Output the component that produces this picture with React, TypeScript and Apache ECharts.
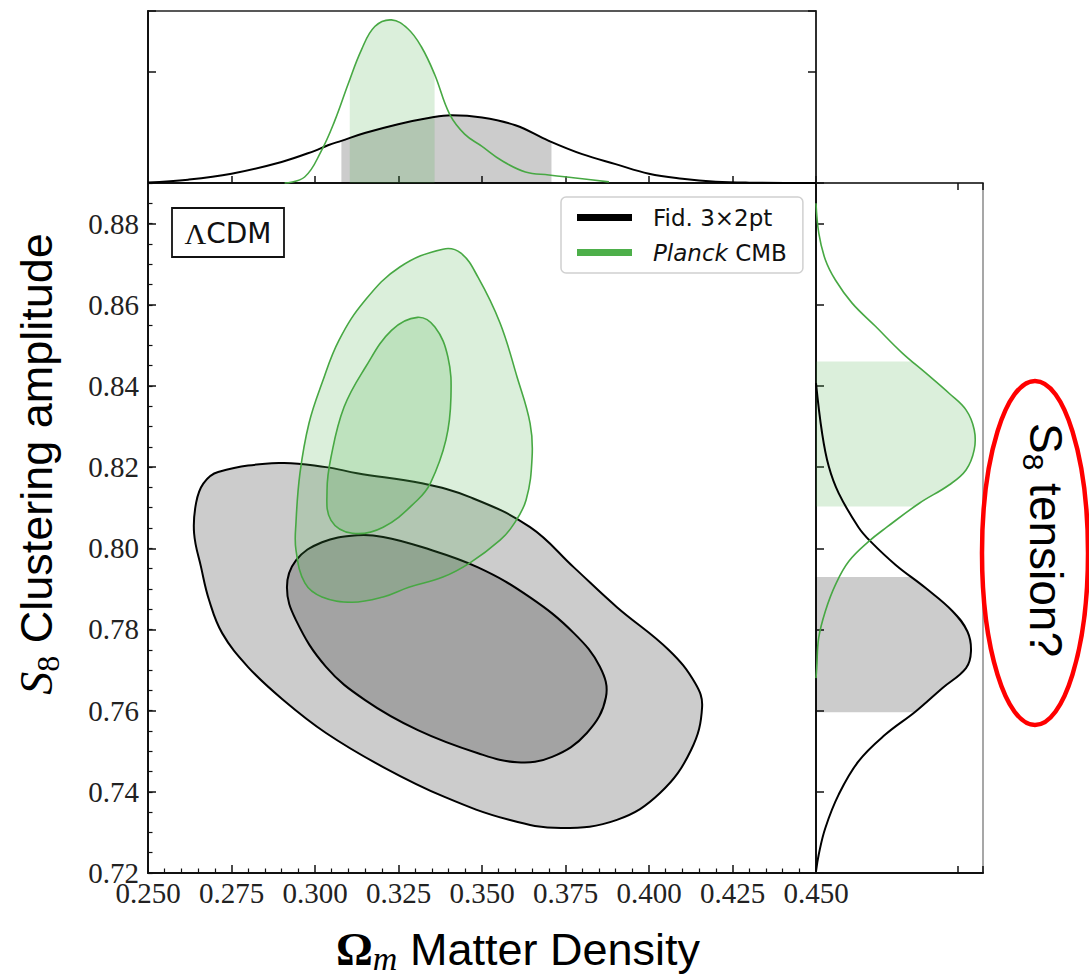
import React, { useEffect, useRef } from "react";
import * as echarts from "echarts";

// ---- axis ranges ----
const OMEGA_MIN = 0.25;
const OMEGA_MAX = 0.45;
const OMEGA_STEP = 0.025;
const S8_MIN = 0.72;
const S8_MAX = 0.89;
const S8_STEP = 0.02;
const TOP_PDF_MAX = 1.55;
const RIGHT_PDF_MAX = 1.18;

// ---- 2D contours [Omega_m, S8] ----
const fidOuter: number[][] = [
  [0.2638, 0.8037], [0.2644, 0.8112], [0.2666, 0.8160], [0.2710, 0.8188], [0.2892, 0.8210],
  [0.3033, 0.8200], [0.3126, 0.8185], [0.3320, 0.8160], [0.3464, 0.8126], [0.3644, 0.8052],
  [0.3775, 0.7953], [0.3904, 0.7855], [0.4060, 0.7749], [0.4138, 0.7668], [0.4159, 0.7609],
  [0.4126, 0.7503], [0.4033, 0.7397], [0.3904, 0.7331], [0.3737, 0.7311], [0.3581, 0.7331],
  [0.3386, 0.7388], [0.3204, 0.7461], [0.3033, 0.7545], [0.2904, 0.7627], [0.2799, 0.7708],
  [0.2722, 0.7791], [0.2683, 0.7872], [0.2659, 0.7953],
];
const fidInner: number[][] = [
  [0.3126, 0.8032], [0.3204, 0.8028], [0.3320, 0.8003], [0.3488, 0.7953], [0.3644, 0.7879],
  [0.3775, 0.7791], [0.3853, 0.7708], [0.3871, 0.7633], [0.3814, 0.7545], [0.3710, 0.7486],
  [0.3605, 0.7473], [0.3488, 0.7495], [0.3308, 0.7552], [0.3150, 0.7626], [0.3033, 0.7708],
  [0.2943, 0.7823], [0.2916, 0.7904], [0.2943, 0.7970], [0.3021, 0.8015],
];
const planckOuter: number[][] = [
  [0.3383, 0.8737], [0.3437, 0.8727], [0.3488, 0.8668], [0.3554, 0.8555], [0.3605, 0.8422],
  [0.3644, 0.8308], [0.3650, 0.8225], [0.3632, 0.8119], [0.3593, 0.8057], [0.3554, 0.8020],
  [0.3464, 0.7964], [0.3383, 0.7929], [0.3281, 0.7904], [0.3204, 0.7880], [0.3111, 0.7867],
  [0.3021, 0.7880], [0.2970, 0.7914], [0.2943, 0.7996], [0.2943, 0.8062], [0.2955, 0.8185],
  [0.2982, 0.8308], [0.3021, 0.8407], [0.3072, 0.8513], [0.3150, 0.8611], [0.3254, 0.8693],
];
const planckInner: number[][] = [
  [0.3307, 0.8569], [0.3359, 0.8545], [0.3398, 0.8471], [0.3407, 0.8372], [0.3392, 0.8267],
  [0.3346, 0.8161], [0.3307, 0.8119], [0.3204, 0.8052], [0.3112, 0.8037], [0.3048, 0.8069],
  [0.3036, 0.8143], [0.3048, 0.8225], [0.3087, 0.8348], [0.3151, 0.8446], [0.3229, 0.8537],
];

// ---- 1D marginals ----
const fidOmega = [0.25, 0.262, 0.275, 0.29, 0.2999, 0.3039, 0.3079, 0.3149, 0.3249, 0.3348, 0.3408, 0.35, 0.36, 0.37, 0.38, 0.39, 0.40, 0.41, 0.42, 0.43, 0.45];
const fidOmegaPdf = [0.005, 0.03, 0.084, 0.19, 0.29, 0.34, 0.38, 0.45, 0.53, 0.59, 0.61, 0.59, 0.52, 0.38, 0.26, 0.17, 0.084, 0.039, 0.012, 0.003, 0];
const planckOmega = [0.2909, 0.2969, 0.3019, 0.3059, 0.3099, 0.3139, 0.3179, 0.3229, 0.3278, 0.3318, 0.3358, 0.3403, 0.3448, 0.35, 0.356, 0.363, 0.37, 0.38, 0.388];
const planckOmegaPdf = [0, 0.054, 0.29, 0.56, 0.89, 1.20, 1.41, 1.47, 1.39, 1.23, 0.98, 0.62, 0.44, 0.33, 0.20, 0.10, 0.072, 0.039, 0.01];
const fidS8 = [0.7204, 0.7245, 0.7311, 0.7393, 0.7475, 0.7541, 0.7598, 0.7656, 0.7705, 0.7746, 0.7795, 0.7845, 0.7902, 0.7959, 0.8017, 0.8052, 0.8136, 0.8202, 0.8284, 0.8407];
const fidS8Pdf = [0, 0.019, 0.066, 0.16, 0.30, 0.49, 0.704, 0.894, 1.06, 1.095, 1.07, 0.965, 0.775, 0.563, 0.385, 0.30, 0.16, 0.09, 0.043, 0];
const planckS8 = [0.768, 0.7705, 0.7779, 0.7845, 0.7910, 0.7968, 0.8017, 0.8052, 0.8111, 0.8156, 0.8193, 0.8243, 0.8292, 0.8341, 0.8382, 0.8432, 0.8481, 0.8547, 0.8604, 0.8661, 0.8711, 0.8776, 0.885];
const planckS8Pdf = [0, 0.005, 0.019, 0.066, 0.137, 0.232, 0.373, 0.50, 0.73, 0.94, 1.06, 1.118, 1.118, 1.06, 0.94, 0.775, 0.61, 0.42, 0.255, 0.137, 0.066, 0.02, 0];

// 68% intervals shaded in the marginals
const fidOmegaBand = [0.3079, 0.3708];
const planckOmegaBand = [0.3104, 0.3358];
const fidS8Band = [0.7596, 0.7929];
const planckS8Band = [0.8103, 0.846];

const SERIES_NAMES = ["Fid. 3×2pt", "Planck CMB"];

const BLACK = "#000000";
const GREEN = "#47a843";
const BLACK_FILL = "rgba(0,0,0,0.2)";
const GREEN_FILL = "rgba(77,175,74,0.2)";
const SMOOTH = 0.4;

function contourSeries(name: string, pts: number[][], fill: string, stroke: string, lw: number) {
  return {
    type: "custom",
    name,
    xAxisIndex: 0,
    yAxisIndex: 0,
    silent: true,
    itemStyle: { color: stroke },
    data: [pts[0]],
    renderItem: (params: any, api: any) => {
      if (params.dataIndex !== 0) return null;
      return {
        type: "polygon",
        shape: { points: pts.map((p) => api.coord(p)), smooth: SMOOTH },
        style: { fill, stroke, lineWidth: lw },
      };
    },
  };
}

function topShade(name: string, xs: number[], ys: number[], band: number[], fill: string) {
  const pts = xs.map((x, i) => [x, ys[i]]);
  return {
    type: "custom", name, xAxisIndex: 1, yAxisIndex: 2, silent: true, data: [pts[0]],
    renderItem: (params: any, api: any) => {
      if (params.dataIndex !== 0) return null;
      const px = pts.map((p) => api.coord(p));
      const a = api.coord([band[0], TOP_PDF_MAX]);
      const b = api.coord([band[1], 0]);
      const f = px[0], l = px[px.length - 1];
      const clip = px.concat([[l[0], l[1] + 40], [f[0], f[1] + 40]]);
      return {
        type: "rect",
        shape: { x: a[0], y: a[1], width: b[0] - a[0], height: b[1] - a[1] },
        style: { fill },
        clipPath: { type: "polygon", shape: { points: clip, smooth: SMOOTH } },
      };
    },
  };
}

function topLine(name: string, xs: number[], ys: number[], color: string, lw: number) {
  const pts = xs.map((x, i) => [x, ys[i]]);
  return {
    type: "custom", name, xAxisIndex: 1, yAxisIndex: 2, silent: true, data: [pts[0]],
    itemStyle: { color },
    renderItem: (params: any, api: any) => {
      if (params.dataIndex !== 0) return null;
      return {
        type: "polyline",
        shape: { points: pts.map((p) => api.coord(p)), smooth: SMOOTH },
        style: { fill: "none", stroke: color, lineWidth: lw },
      };
    },
  };
}

function rightShade(name: string, s8: number[], pdf: number[], band: number[], fill: string) {
  const pts = s8.map((s, i) => [pdf[i], s]);
  return {
    type: "custom", name, xAxisIndex: 2, yAxisIndex: 4, silent: true, data: [pts[0]],
    renderItem: (params: any, api: any) => {
      if (params.dataIndex !== 0) return null;
      const px = pts.map((p) => api.coord(p));
      const a = api.coord([RIGHT_PDF_MAX, band[1]]);
      const b = api.coord([0, band[0]]);
      const f = px[0], l = px[px.length - 1];
      const clip = px.concat([[l[0] - 40, l[1]], [f[0] - 40, f[1]]]);
      return {
        type: "rect",
        shape: { x: b[0], y: a[1], width: a[0] - b[0], height: b[1] - a[1] },
        style: { fill },
        clipPath: { type: "polygon", shape: { points: clip, smooth: SMOOTH } },
      };
    },
  };
}

function rightLine(name: string, s8: number[], pdf: number[], color: string, lw: number) {
  const pts = s8.map((s, i) => [pdf[i], s]);
  return {
    type: "custom", name, xAxisIndex: 2, yAxisIndex: 4, silent: true, data: [pts[0]],
    itemStyle: { color },
    renderItem: (params: any, api: any) => {
      if (params.dataIndex !== 0) return null;
      return {
        type: "polyline",
        shape: { points: pts.map((p) => api.coord(p)), smooth: SMOOTH },
        style: { fill: "none", stroke: color, lineWidth: lw },
      };
    },
  };
}

const axisLine = (color = "#111", width = 2) => ({ show: true, onZero: false, lineStyle: { color, width } });
const tick = (length: number) => ({ show: true, inside: true, length, lineStyle: { color: "#111", width: 1.5 } });
const noLabel = { show: false };
const noSplit = { show: false };

export default function App() {
  const ref = useRef<HTMLDivElement>(null);
  useEffect(() => {
    if (!ref.current) return;
    const chart = echarts.init(ref.current, undefined, { renderer: "svg" });
    const option: any = {
      animation: false,
      backgroundColor: "#ffffff",
      grid: [
        { left: 148, top: 183, width: 668, height: 690, show: false },
        { left: 148, top: 11, width: 668, height: 172, show: true, borderColor: "#222", borderWidth: 1.5, backgroundColor: "transparent" },
        { left: 816, top: 183, width: 167, height: 690, show: true, borderColor: "#8a8a8a", borderWidth: 1.5, backgroundColor: "transparent" },
      ],
      xAxis: [
        {
          gridIndex: 0, type: "value", min: OMEGA_MIN, max: OMEGA_MAX, interval: OMEGA_STEP,
          axisLine: axisLine(), axisTick: tick(8),
          minorTick: { show: true, splitNumber: 5, length: 4.5, lineStyle: { color: "#111", width: 1.2 } },
          splitLine: noSplit, minorSplitLine: noSplit,
          axisLabel: { formatter: (v: number) => v.toFixed(3), fontFamily: "Liberation Serif", fontSize: 29, color: "#222", margin: 5 },
        },
        {
          gridIndex: 1, type: "value", min: OMEGA_MIN, max: OMEGA_MAX, interval: OMEGA_STEP, position: "bottom",
          axisLine: axisLine(), axisTick: tick(7), axisLabel: noLabel, splitLine: noSplit,
        },
        {
          gridIndex: 2, type: "value", min: 0, max: RIGHT_PDF_MAX, interval: 1, position: "bottom",
          axisLine: axisLine(), axisTick: tick(7), axisLabel: noLabel, splitLine: noSplit,
        },
        {
          gridIndex: 2, type: "value", min: 0, max: RIGHT_PDF_MAX, interval: 1, position: "top",
          axisLine: axisLine("#222", 1.5), axisTick: tick(7), axisLabel: noLabel, splitLine: noSplit,
        },
      ],
      yAxis: [
        {
          gridIndex: 0, type: "value", min: S8_MIN, max: S8_MAX, interval: S8_STEP, position: "left",
          axisLine: axisLine(), axisTick: tick(8), splitLine: noSplit,
          axisLabel: { formatter: (v: number) => v.toFixed(2), showMaxLabel: false, fontFamily: "Liberation Serif", fontSize: 29, color: "#222", margin: 9 },
        },
        {
          gridIndex: 0, type: "value", min: S8_MIN, max: S8_MAX, interval: 0.005, position: "left",
          axisLine: { show: false }, axisTick: { show: true, inside: true, length: 4.5, lineStyle: { color: "#111", width: 1.2 } },
          axisLabel: noLabel, splitLine: noSplit,
        },
        {
          gridIndex: 1, type: "value", min: 0, max: TOP_PDF_MAX, interval: 1, position: "left",
          axisLine: axisLine(), axisTick: tick(8), axisLabel: noLabel, splitLine: noSplit,
        },
        {
          gridIndex: 1, type: "value", min: 0, max: TOP_PDF_MAX, interval: 1, position: "right",
          axisLine: axisLine("#222", 1.5), axisTick: tick(8), axisLabel: noLabel, splitLine: noSplit,
        },
        {
          gridIndex: 2, type: "value", min: S8_MIN, max: S8_MAX, interval: S8_STEP, position: "left",
          axisLine: axisLine(), axisTick: tick(8), axisLabel: noLabel, splitLine: noSplit,
        },
      ],
      legend: {
        show: true,
        selectedMode: false,
        orient: "vertical",
        left: 561,
        top: 197,
        padding: [9, 16],
        itemGap: 12,
        itemWidth: 55,
        itemHeight: 7,
        backgroundColor: "rgba(255,255,255,0.85)",
        borderColor: "#d0d0d0",
        borderWidth: 1.5,
        borderRadius: 5,
        data: [
          { name: SERIES_NAMES[0], icon: "rect", itemStyle: { color: BLACK } },
          { name: SERIES_NAMES[1], icon: "rect", itemStyle: { color: "#4daf4a" } },
        ],
        formatter: (name: string) => (name === SERIES_NAMES[1] ? "{i|Planck} CMB" : name),
        textStyle: {
          fontFamily: "DejaVu Sans", fontSize: 23, color: "#111", padding: [0, 0, 0, 16],
          rich: { i: { fontFamily: "DejaVu Sans", fontStyle: "italic", fontSize: 23, color: "#111" } },
        },
      },
      series: [
        contourSeries(SERIES_NAMES[0], fidOuter, BLACK_FILL, BLACK, 2),
        contourSeries(SERIES_NAMES[0], fidInner, BLACK_FILL, BLACK, 2),
        contourSeries(SERIES_NAMES[1], planckOuter, GREEN_FILL, GREEN, 1.6),
        contourSeries(SERIES_NAMES[1], planckInner, GREEN_FILL, GREEN, 1.6),
        topShade(SERIES_NAMES[0], fidOmega, fidOmegaPdf, fidOmegaBand, BLACK_FILL),
        topShade(SERIES_NAMES[1], planckOmega, planckOmegaPdf, planckOmegaBand, GREEN_FILL),
        rightShade(SERIES_NAMES[0], fidS8, fidS8Pdf, fidS8Band, BLACK_FILL),
        rightShade(SERIES_NAMES[1], planckS8, planckS8Pdf, planckS8Band, GREEN_FILL),
        topLine(SERIES_NAMES[0], fidOmega, fidOmegaPdf, BLACK, 2),
        topLine(SERIES_NAMES[1], planckOmega, planckOmegaPdf, GREEN, 1.6),
        rightLine(SERIES_NAMES[0], fidS8, fidS8Pdf, BLACK, 2),
        rightLine(SERIES_NAMES[1], planckS8, planckS8Pdf, GREEN, 1.6),
      ],
      graphic: [
        {
          type: "rect", z: 50,
          shape: { x: 172, y: 208, width: 112, height: 49 },
          style: { fill: "#ffffff", stroke: "#111", lineWidth: 1.8 },
        },
        {
          type: "text", z: 51, x: 228, y: 233,
          style: {
            text: "{a|Λ}{b|CDM}",
            align: "center", verticalAlign: "middle", textAlign: "center", textVerticalAlign: "middle",
            rich: {
              a: { fontFamily: "Liberation Serif", fontSize: 30, fill: "#111", color: "#111" },
              b: { fontFamily: "DejaVu Sans", fontSize: 28, fill: "#111", color: "#111" },
            },
          },
        },
        {
          type: "text", z: 51, x: 518, y: 949,
          style: {
            text: "{o|Ω}{m|m}{t| Matter Density}",
            align: "center", verticalAlign: "middle", textAlign: "center", textVerticalAlign: "middle",
            rich: {
              o: { fontFamily: "Liberation Serif", fontWeight: "bold", fontSize: 46, lineHeight: 52, fill: "#000", color: "#000" },
              m: { fontFamily: "Liberation Serif", fontStyle: "italic", fontSize: 34, lineHeight: 28, verticalAlign: "bottom", fill: "#000", color: "#000" },
              t: { fontFamily: "Liberation Sans", fontSize: 45, lineHeight: 52, fill: "#000", color: "#000" },
            },
          },
        },
        {
          type: "text", z: 51, x: 36, y: 464, rotation: Math.PI / 2,
          style: {
            text: "{s|S}{n|8}{t| Clustering amplitude}",
            align: "center", verticalAlign: "middle", textAlign: "center", textVerticalAlign: "middle",
            rich: {
              s: { fontFamily: "Liberation Serif", fontStyle: "italic", fontSize: 46, lineHeight: 56, fill: "#000", color: "#000" },
              n: { fontFamily: "Liberation Serif", fontSize: 32, lineHeight: 30, verticalAlign: "bottom", fill: "#000", color: "#000" },
              t: { fontFamily: "Liberation Sans", fontSize: 45, lineHeight: 56, fill: "#000", color: "#000" },
            },
          },
        },
        {
          type: "ellipse", z: 50,
          shape: { cx: 1035, cy: 553, rx: 53, ry: 172 },
          style: { fill: "none", stroke: "#ff0000", lineWidth: 4.5 },
        },
        {
          type: "text", z: 51, x: 1046, y: 540, rotation: -Math.PI / 2,
          style: {
            text: "{s|S}{n|8}{t| tension?}",
            align: "center", verticalAlign: "middle", textAlign: "center", textVerticalAlign: "middle",
            rich: {
              s: { fontFamily: "Liberation Sans", fontSize: 46, lineHeight: 56, fill: "#000", color: "#000" },
              n: { fontFamily: "Liberation Sans", fontSize: 30, lineHeight: 30, verticalAlign: "bottom", fill: "#000", color: "#000" },
              t: { fontFamily: "Liberation Sans", fontSize: 46, lineHeight: 56, fill: "#000", color: "#000" },
            },
          },
        },
      ],
    };
    chart.setOption(option);
    return () => chart.dispose();
  }, []);
  return (
    <div
      ref={ref}
      style={{ position: "absolute", left: 0, top: 0, width: 1089, height: 979, background: "#fff" }}
    />
  );
}
